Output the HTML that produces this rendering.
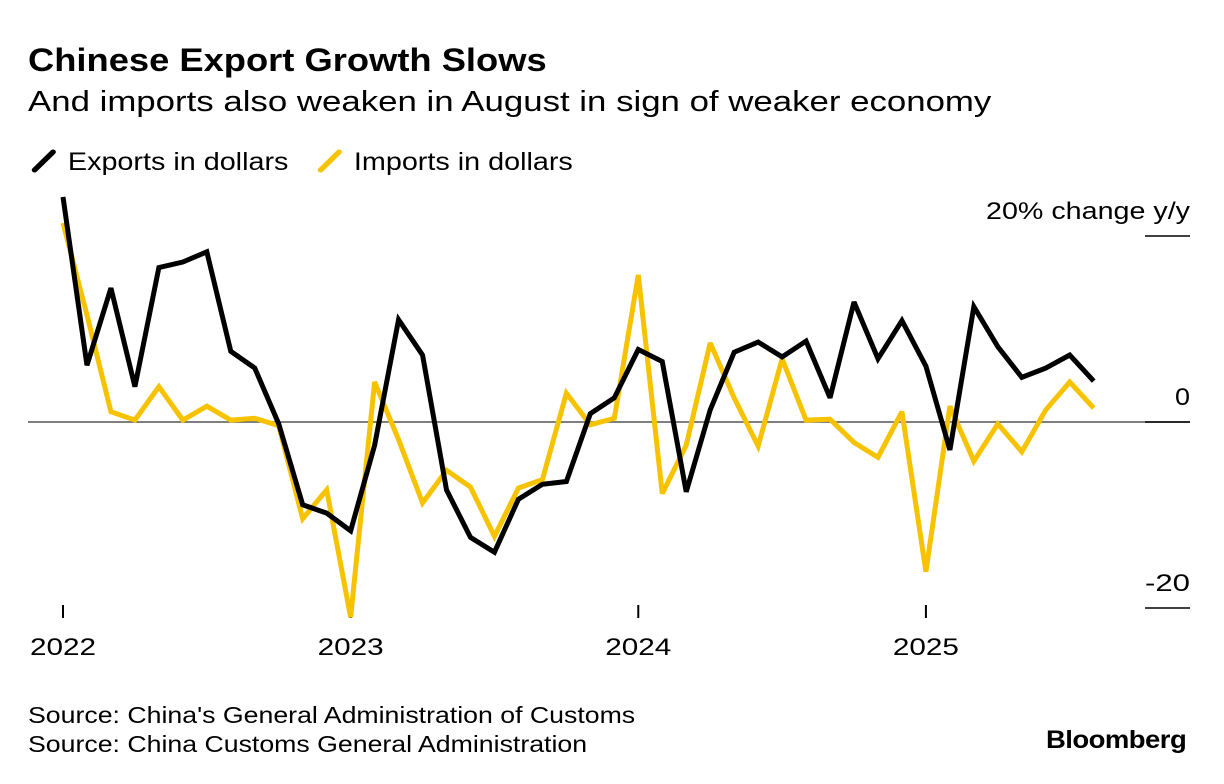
<!DOCTYPE html>
<html><head><meta charset="utf-8"><style>
body{margin:0;background:#fff;width:1224px;height:784px;overflow:hidden;font-family:"Liberation Sans",sans-serif;color:#000}
.t{position:absolute;white-space:nowrap;transform-origin:0 0}
</style></head><body>
<div class="t" style="left:28px;top:42px;font-size:32px;font-weight:bold;transform:scaleX(1.135)">Chinese Export Growth Slows</div>
<div class="t" style="left:28px;top:86px;font-size:29px;transform:scaleX(1.2)">And imports also weaken in August in sign of weaker economy</div>
<div class="t" style="left:30px;top:148px;font-size:25px;transform:scaleX(1.15)"><svg width="26" height="26" style="vertical-align:-4px"><line x1="4" y1="22" x2="20" y2="4" stroke="#000" stroke-width="5" stroke-linecap="round"/></svg> Exports in dollars</div>
<div class="t" style="left:316px;top:148px;font-size:25px;transform:scaleX(1.15)"><svg width="26" height="26" style="vertical-align:-4px"><line x1="4" y1="22" x2="20" y2="4" stroke="#f7c300" stroke-width="5" stroke-linecap="round"/></svg> Imports in dollars</div>
<div class="t" style="left:28px;top:702px;font-size:23px;transform:scaleX(1.16)">Source: China's General Administration of Customs</div>
<div class="t" style="left:28px;top:731px;font-size:23px;transform:scaleX(1.16)">Source: China Customs General Administration</div>
<div class="t" style="left:1046px;top:726px;font-size:25px;font-weight:bold;letter-spacing:-0.5px;transform:scaleX(1.1)">Bloomberg</div>
<svg id="chart" width="1224" height="784" style="position:absolute;left:0;top:0"></svg>
<script>
const years=["2022","2023","2024","2025"];
const yTicks=[20,0,-20];
const exportsVals=[24.2,6.1,14.4,3.8,16.6,17.2,18.3,7.6,5.8,-0.2,-8.9,-9.8,-11.7,-2.5,11.0,7.2,-7.3,-12.4,-14.0,-8.3,-6.7,-6.4,0.9,2.6,7.8,6.5,-7.5,1.3,7.5,8.6,7.0,8.7,2.6,12.9,6.8,10.9,6.0,-3.0,12.4,8.1,4.8,5.8,7.2,4.4];
const importsVals=[21.4,11.5,1.1,0.2,3.8,0.2,1.7,0.2,0.4,-0.4,-10.4,-7.3,-21.0,4.3,-1.9,-8.7,-5.2,-7.0,-12.3,-7.1,-6.2,3.1,-0.3,0.4,15.8,-7.7,-2.5,8.5,2.6,-2.6,6.8,0.2,0.3,-2.2,-3.8,1.1,-16.1,1.7,-4.2,-0.2,-3.2,1.3,4.3,1.5];
const NS="http://www.w3.org/2000/svg",svg=document.getElementById('chart');
const x=i=>63+i*23.97, y=v=>422-v*9.3;
function mk(t,a){const e=document.createElementNS(NS,t);for(const k in a)e.setAttribute(k,a[k]);svg.appendChild(e);return e;}
let zl=mk('line',{x1:28,x2:1190,y1:y(0),y2:y(0),stroke:'#555','stroke-width':1.5});


yTicks.forEach(v=>{
 const l=mk('line',{x1:1145,x2:1190,y1:y(v),y2:y(v),stroke:'#000','stroke-width':1.5});
 
 
 const s=v===20?'20% change y/y':String(v);
 const w=v===20?204:(v===0?15:45);
 const t=mk('text',{x:1190-w,y:y(v)-17,'font-size':24,'font-family':'Liberation Sans',textLength:w,lengthAdjust:'spacingAndGlyphs'});
 t.textContent=s;
 
 
});
years.forEach((yr,k)=>{
 const xx=x(k*12);
 const l=mk('line',{x1:xx,x2:xx,y1:605,y2:618,stroke:'#000','stroke-width':2});
 
 
 const t=mk('text',{x:xx-33,y:655,'font-size':24,'font-family':'Liberation Sans',textLength:66,lengthAdjust:'spacingAndGlyphs'});
 t.textContent=yr;
 
 
});
function line(vals,col,name){
 const p=mk('polyline',{points:vals.map((v,i)=>x(i)+','+y(v)).join(' '),fill:'none',stroke:col,'stroke-width':5,'stroke-linejoin':'miter','stroke-miterlimit':3});
 
 
}
line(importsVals,'#f7c300','imports-line');
line(exportsVals,'#000','exports-line');
</script>
</body></html>
